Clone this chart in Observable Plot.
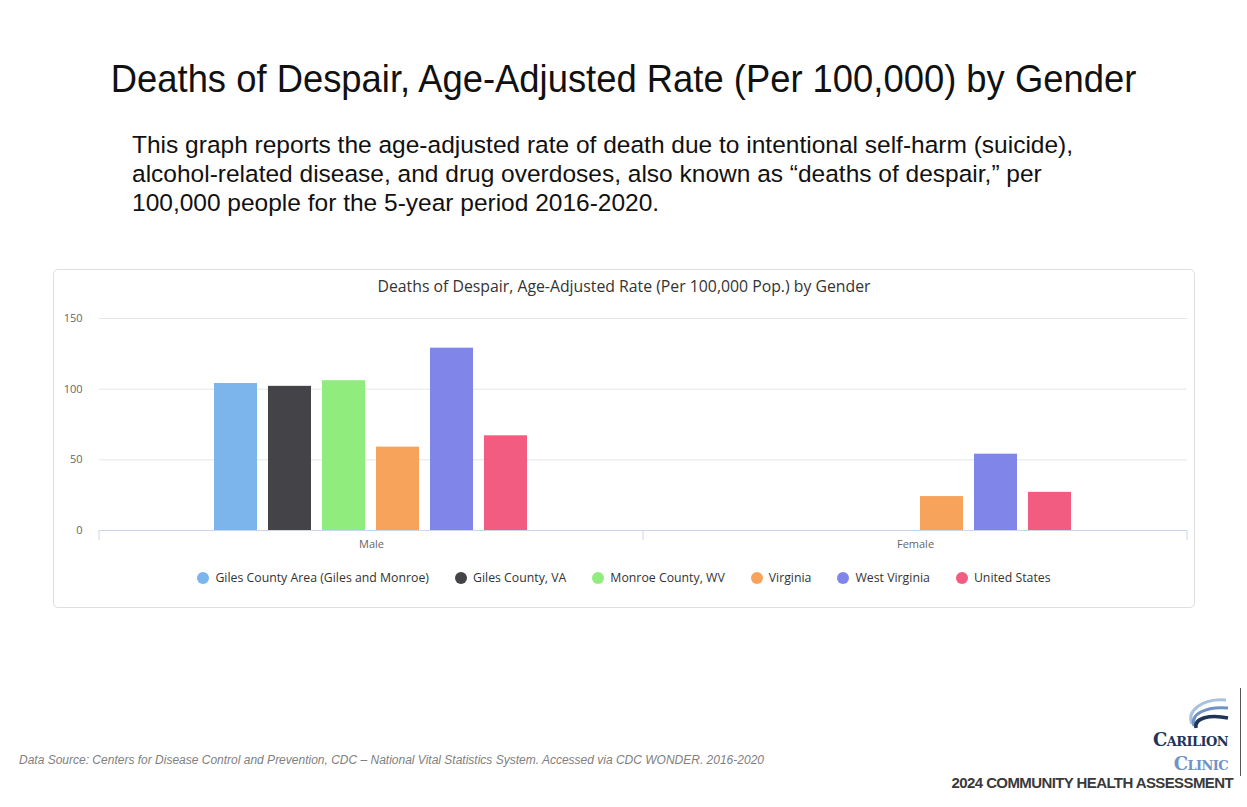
<!DOCTYPE html>
<html>
<head>
<meta charset="utf-8">
<script src="https://cdn.jsdelivr.net/npm/d3@7"></script>
<script src="https://cdn.jsdelivr.net/npm/@observablehq/plot@0.6"></script>
<style>
  html, body { margin: 0; padding: 0; background: #fff; }
  body { width: 1247px; height: 807px; position: relative; overflow: hidden; font-family: "Liberation Sans", Arial, sans-serif; }
  #title { position: absolute; left: 0; width: 1247px; top: 56px; text-align: center; font-size: 39px; line-height: 46px; color: #111; transform: scaleX(0.933); transform-origin: 624px 0; white-space: nowrap; }
  #desc { position: absolute; left: 132px; top: 130px; font-size: 24.5px; line-height: 29px; color: #111; white-space: nowrap; }
  #box { position: absolute; left: 53px; top: 269px; width: 1140px; height: 337px; border: 1px solid #dedede; border-radius: 5px; background: #fff; }
  #ctitle { position: absolute; left: 0; width: 100%; top: 5px; text-align: center; font-family: "Open Sans", sans-serif; font-size: 15.8px; color: #333; }
  #chart { position: absolute; left: 0; top: 30px; }
  #legend { position: absolute; left: 0; width: 100%; top: 299px; display: flex; justify-content: center; gap: 26px; font-family: "Open Sans", sans-serif; font-size: 12.3px; color: #333; }
  #legend .item { display: flex; align-items: center; gap: 6px; }
  #legend .dot { width: 12px; height: 12px; border-radius: 50%; display: inline-block; }
  #source { position: absolute; left: 19px; top: 753px; font-size: 12px; font-style: italic; color: #808080; }
  #logo1 { position: absolute; right: 19px; top: 730px; line-height: 20px; font-family: "DejaVu Serif", "Liberation Serif", serif; font-weight: bold; color: #1d3557; font-size: 18px; font-variant: small-caps; letter-spacing: -0.6px; }
  #logo2 { position: absolute; right: 19px; top: 754px; line-height: 20px; font-family: "DejaVu Serif", "Liberation Serif", serif; font-weight: bold; color: #6f93c4; font-size: 18px; font-variant: small-caps; letter-spacing: -0.6px; }
  #cha { position: absolute; right: 14px; top: 775px; line-height: 16px; font-family: "Liberation Sans", sans-serif; font-weight: bold; color: #3a3a3a; font-size: 15px; letter-spacing: -0.6px; }
  #vline { position: absolute; left: 1240px; top: 688px; width: 1px; height: 88px; background: #555; }
  #swoosh { position: absolute; left: 1182px; top: 694px; }
</style>
</head>
<body>
<div id="title">Deaths of Despair, Age-Adjusted Rate (Per 100,000) by Gender</div>
<div id="desc">This graph reports the age-adjusted rate of death due to intentional self-harm (suicide),<br>alcohol-related disease, and drug overdoses, also known as “deaths of despair,” per<br>100,000 people for the 5-year period 2016-2020.</div>
<div id="box">
  <div id="ctitle">Deaths of Despair, Age-Adjusted Rate (Per 100,000 Pop.) by Gender</div>
  <div id="chart"></div>
  <div id="legend"></div>
</div>
<div id="source">Data Source: Centers for Disease Control and Prevention, CDC – National Vital Statistics System. Accessed via CDC WONDER. 2016-2020</div>
<svg id="swoosh" width="50" height="36" viewBox="0 0 50 36">
  <path d="M10 30 C4 16, 22 4, 44 6" fill="none" stroke="#a9c1e0" stroke-width="3"/>
  <path d="M12 32 C8 20, 24 12, 46 14" fill="none" stroke="#6f93c4" stroke-width="3"/>
  <path d="M14 34 C12 24, 28 20, 46 24" fill="none" stroke="#1d3557" stroke-width="3.5"/>
</svg>
<div id="logo1">Carilion</div>
<div id="logo2">Clinic</div>
<div id="cha">2024 COMMUNITY HEALTH ASSESSMENT</div>
<div id="vline"></div>
<script>
const genders = ["Male", "Female"];
const series = ["Giles County Area (Giles and Monroe)", "Giles County, VA", "Monroe County, WV", "Virginia", "West Virginia", "United States"];
const colors = ["#7cb5ec", "#434348", "#90ed7d", "#f7a35c", "#8085e9", "#f15c80"];
const maleValues = [104, 102, 106, 59, 129, 67];
const femaleValues = [null, null, null, 24, 54, 27];
const yTicks = [0, 50, 100, 150];

const data = [];
series.forEach((s, i) => {
  data.push({gender: "Male", series: s, value: maleValues[i]});
  data.push({gender: "Female", series: s, value: femaleValues[i]});
});
const rows = data.filter(d => d.value != null);

const plot = Plot.plot({
  width: 1140,
  height: 262,
  marginLeft: 45,
  marginRight: 7,
  marginTop: 18,
  marginBottom: 32,
  style: {fontFamily: "Open Sans, sans-serif", fontSize: "11px", color: "#666", background: "transparent"},
  fx: {domain: genders, padding: 0, label: null},
  x: {domain: series, paddingInner: 0.2, paddingOuter: 2.13, axis: null},
  y: {domain: [0, 150], axis: null},
  color: {domain: series, range: colors},
  marks: [
    Plot.gridY(yTicks.slice(1), {stroke: "#e6e6e6", strokeOpacity: 1}),
    Plot.axisY(yTicks, {tickSize: 0, tickPadding: 17, label: null, fill: "#666", fontSize: 11}),
    Plot.axisFx({anchor: "bottom", tickSize: 0, tickPadding: 10, label: null, fill: "#666", fontSize: 11}),
    Plot.barY(rows, {fx: "gender", x: "series", y: "value", fill: "series"}),
    Plot.ruleY([0], {stroke: "#ccd6eb"})
  ]
});
document.getElementById("chart").appendChild(plot);

// category boundary ticks from the fx scale
const fx = plot.scale("fx");
const yS = plot.scale("y");
const y0 = yS.apply(0);
const bounds = genders.map(g => fx.apply(g)).concat([fx.apply(genders[genders.length - 1]) + fx.bandwidth]);
const svg = d3.select(plot);
svg.append("g").selectAll("line").data(bounds).join("line")
  .attr("x1", d => d).attr("x2", d => d)
  .attr("y1", y0).attr("y2", y0 + 10)
  .attr("stroke", "#ccd6eb");

const legend = d3.select("#legend");
series.forEach((s, i) => {
  const it = legend.append("div").attr("class", "item");
  it.append("span").attr("class", "dot").style("background", colors[i]);
  it.append("span").text(s);
});
</script>
</body>
</html>
